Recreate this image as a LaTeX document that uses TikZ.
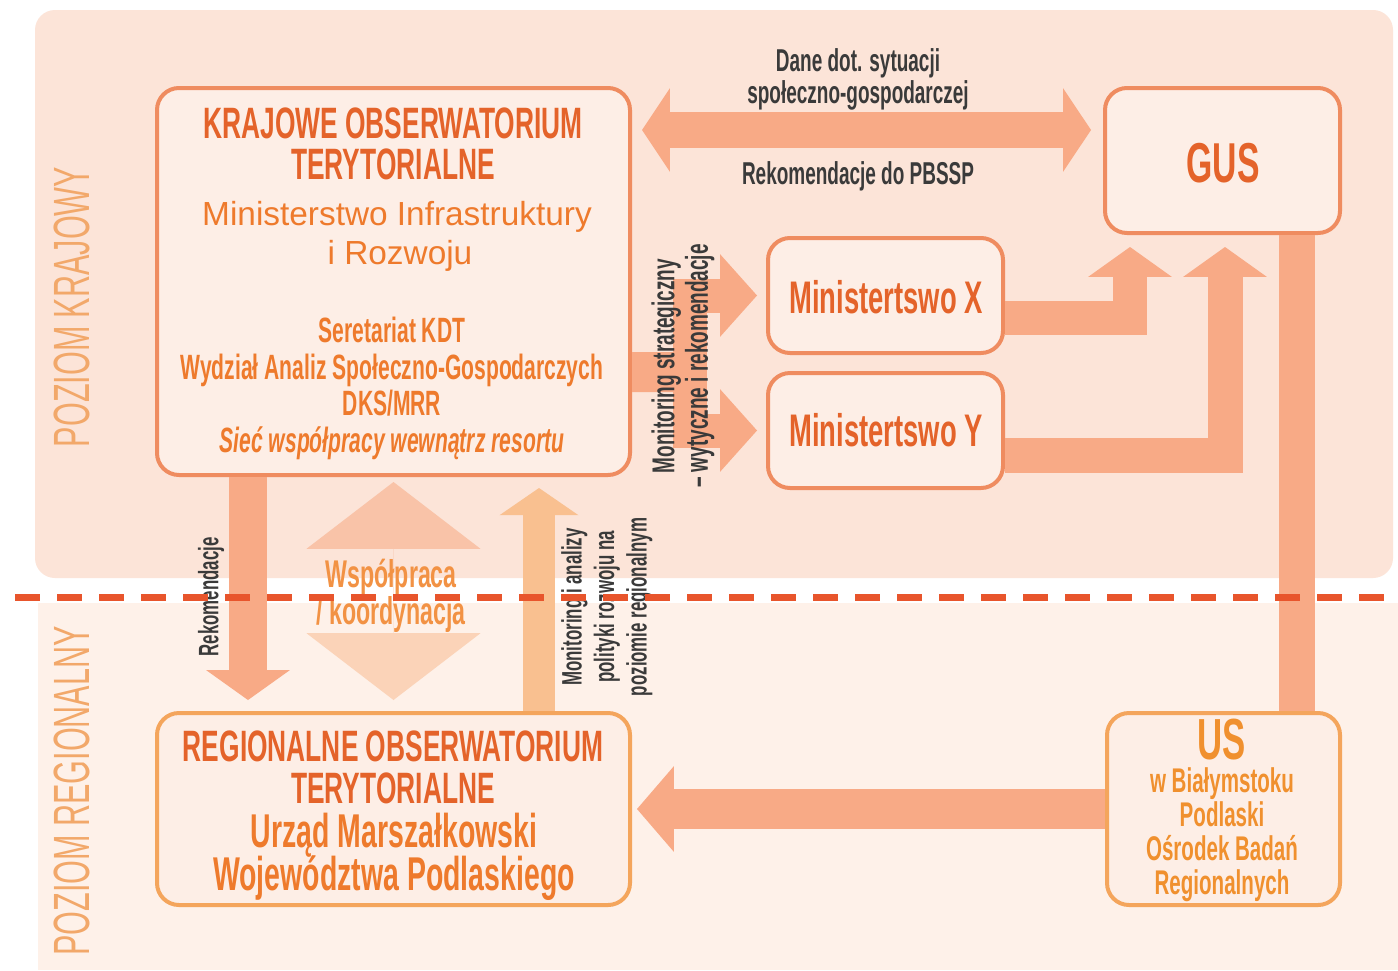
\documentclass[tikz,border=0pt]{standalone}
\usepackage{fontspec}
\setmainfont{Liberation Sans}
\newfontfamily\condfont[FakeStretch=0.6]{Liberation Sans}
\usetikzlibrary{arrows.meta}

\newlength{\px}
\setlength{\px}{0.02cm}

\definecolor{bgtop}{HTML}{FCE4D8}
\definecolor{bgbot}{HTML}{FEF1E9}
\definecolor{boxfill}{HTML}{FDEEE6}
\definecolor{kotline}{HTML}{EF8C60}
\definecolor{rotline}{HTML}{F4A55C}
\definecolor{arrowfill}{HTML}{F8AA86}
\definecolor{coopup}{HTML}{F9C3A8}
\definecolor{coopdown}{HTML}{FBD3B8}
\definecolor{upfill}{HTML}{F9C090}
\definecolor{titleorange}{HTML}{E4632A}
\definecolor{textorange}{HTML}{EE7A2C}
\definecolor{usorange}{HTML}{F0902E}
\definecolor{cooporange}{HTML}{F29244}
\definecolor{labelgray}{HTML}{3A3A3A}
\definecolor{levelorange}{HTML}{F2A86A}
\definecolor{dashred}{HTML}{E8552C}

% 1px = 0.567pt
\tikzset{
  kotbox/.style={draw=kotline, line width=4\px, rounded corners=22\px, fill=boxfill, inner sep=0pt},
  rotbox/.style={kotbox, draw=rotline},
  fatarrow/.style={draw=arrowfill, line width=36\px},
  bighead/.style={-{Triangle[length=17pt,width=47.6pt,line width=0pt]}},
  longhead/.style={-{Triangle[length=21pt,width=47pt,line width=0pt]}},
  twoheads/.style={{Triangle[length=15.9pt,width=47.6pt,line width=0pt]}-{Triangle[length=15.9pt,width=47.6pt,line width=0pt]}},
  coophead/.style={line width=0.01pt, -{Triangle[length=38pt,width=99pt,line width=0pt]}},
  txt/.style={inner sep=0pt, anchor=base},
  titletext/.style={txt, text=titleorange, font=\condfont\bfseries\fontsize{25}{30}\selectfont},
  subtext/.style={txt, text=textorange, font=\fontsize{19}{23}\selectfont},
  smalltext/.style={txt, text=textorange, font=\condfont\bfseries\fontsize{20}{24}\selectfont},
  ustext/.style={inner sep=0pt, text=usorange, align=center, font=\condfont\bfseries\fontsize{19.5}{19.3}\selectfont},
  graytext/.style={txt, text=labelgray, font=\condfont\bfseries\fontsize{18}{21}\selectfont},
  leveltext/.style={inner sep=0pt, rotate=90, text=levelorange, font=\condfont\fontsize{29}{34}\selectfont}
}

\begin{document}
\begin{tikzpicture}[x=1\px,y=-1\px]
\useasboundingbox (0,0) rectangle (1398,970);
\fill[white] (0,0) rectangle (1398,970);
\fill[bgbot] (38,603) rectangle (1398,970);
\fill[bgtop, rounded corners=20\px] (35,10) rectangle (1393,578);

% boxes
\node[kotbox, minimum width=473\px, minimum height=387\px] (kot) at (393.5,281.5) {};
\node[kotbox, minimum width=235\px, minimum height=145\px] (gus) at (1222.5,160.5) {};
\node[kotbox, minimum width=235\px, minimum height=115\px] (minx) at (885.5,295.5) {};
\node[kotbox, minimum width=235\px, minimum height=115\px] (miny) at (885.5,430.5) {};
\node[rotbox, minimum width=473\px, minimum height=192\px] (rot) at (393.5,809) {};
\node[rotbox, minimum width=233\px, minimum height=192\px] (us) at (1223.5,809) {};

% arrows
\coordinate (split) at (690,372);
\coordinate (gusx) at (1130,247);
\coordinate (gusy) at (1225,247);
\coordinate (coopmid) at (393.5,590);
\draw[fatarrow, twoheads] ([xshift=10\px,yshift=151.5\px]kot.east) -- ([xshift=-12\px,yshift=30.5\px]gus.west);
\draw[fatarrow, line width=40\px] ([yshift=-90.5\px]kot.east) -- (split);
\draw[fatarrow, line width=34\px, longhead] (split) |- ([xshift=-9\px]minx.west);
\draw[fatarrow, line width=34\px, longhead] (split) |- ([xshift=-9\px]miny.west);
\draw[fatarrow, line width=34\px, bighead] ([yshift=-22.5\px]minx.east) -| (gusx);
\draw[fatarrow, line width=35\px, bighead] ([yshift=-24.5\px]miny.east) -| (gusy);
\draw[fatarrow, line width=36\px] ([xshift=74.5\px]gus.south) -- ([xshift=73.5\px]us.north);
\draw[fatarrow, line width=40\px, -{Triangle[length=21pt,width=48.8pt,line width=0pt]}] (us.west) -- ([xshift=5\px]rot.east);
\draw[fatarrow, line width=38\px, bighead] ([xshift=-145.5\px]kot.south) -- ([xshift=-145.5\px,yshift=11\px]rot.north);
\draw[draw=coopup, coophead] (coopmid) -- ([yshift=-5\px]kot.south);
\draw[draw=coopdown, coophead] (coopmid) -- ([yshift=11\px]rot.north);
\draw[draw=upfill, line width=32\px, -{Triangle[length=15.5pt,width=45pt,line width=0pt]}] ([xshift=145.5\px]rot.north) -- ([xshift=145.5\px,yshift=-11\px]kot.south);

% setfont left to latex
\node[titletext] (kot1) at (393,138) {KRAJOWE OBSERWATORIUM};
\node[titletext] (kot2) at (393,179) {TERYTORIALNE};
\node[subtext] (kot3) at (397,225) {Ministerstwo Infrastruktury};
\node[subtext] (kot4) at (400,264) {i Rozwoju};
\node[smalltext] (kot5) at (392,342) {Seretariat KDT};
\node[smalltext] (kot6) at (392,379) {Wydział Analiz Społeczno-Gospodarczych};
\node[smalltext] (kot7) at (392,415) {DKS/MRR};
\node[smalltext] (kot8) at (392,452) {\itshape Sieć współpracy wewnątrz resortu};

\node[titletext, font=\condfont\bfseries\fontsize{32}{38}\selectfont] (gust) at (1223,182) {GUS};
\node[titletext, font=\condfont\bfseries\fontsize{26}{31}\selectfont] (minxt) at (886,313) {Ministertswo X};
\node[titletext, font=\condfont\bfseries\fontsize{26}{31}\selectfont] (minyt) at (886,446) {Ministertswo Y};

\node[titletext] (rot1) at (393,761) {REGIONALNE OBSERWATORIUM};
\node[titletext] (rot2) at (393,803) {TERYTORIALNE};
\node[titletext, text=textorange, font=\condfont\bfseries\fontsize{27}{32}\selectfont] (rot3) at (394,847) {Urząd Marszałkowski};
\node[titletext, text=textorange, font=\condfont\bfseries\fontsize{27}{32}\selectfont] (rot4) at (394,890) {Województwa Podlaskiego};

\node[txt, text=usorange, font=\condfont\bfseries\fontsize{33}{38}\selectfont] (us1) at (1222,759) {US};
\node[ustext] (us2) at (1222,835) {w Białymstoku\\Podlaski\\Ośrodek Badań\\Regionalnych};

\node[graytext] (dane1) at (858,71) {Dane dot. sytuacji};
\node[graytext] (dane2) at (858,103) {społeczno-gospodarczej};
\node[graytext] (rekpbssp) at (858,184) {Rekomendacje do PBSSP};
\node[graytext, anchor=center, rotate=90, align=center, font=\condfont\bfseries\fontsize{18}{19}\selectfont] (monstrat) at (683,366) {Monitoring strategiczny\\– wytyczne i rekomendacje};
\node[graytext, anchor=center, rotate=90, font=\condfont\bfseries\fontsize{16}{18}\selectfont] (rekreg) at (211,597) {Rekomendacje};
\node[graytext, anchor=center, rotate=90, align=center, font=\condfont\bfseries\fontsize{16}{18.5}\selectfont] (monreg) at (607,607) {Monitoring i analizy\\polityki rozwoju na\\poziomie regionalnym};
\node[smalltext, text=cooporange, font=\condfont\bfseries\fontsize{22}{26}\selectfont] (coop1) at (391,587) {Współpraca};
\node[smalltext, text=cooporange, font=\condfont\bfseries\fontsize{22}{26}\selectfont] (coop2) at (391,624) {/ koordynacja};

\node[leveltext] (krajowy) at (72,307) {POZIOM KRAJOWY};
\node[leveltext] (regionalny) at (72,791) {POZIOM REGIONALNY};

% level border
\draw[dashred, line width=7\px, dash pattern=on 25\px off 17\px] (15,597) -- (1398,597);
\end{tikzpicture}
\end{document}
